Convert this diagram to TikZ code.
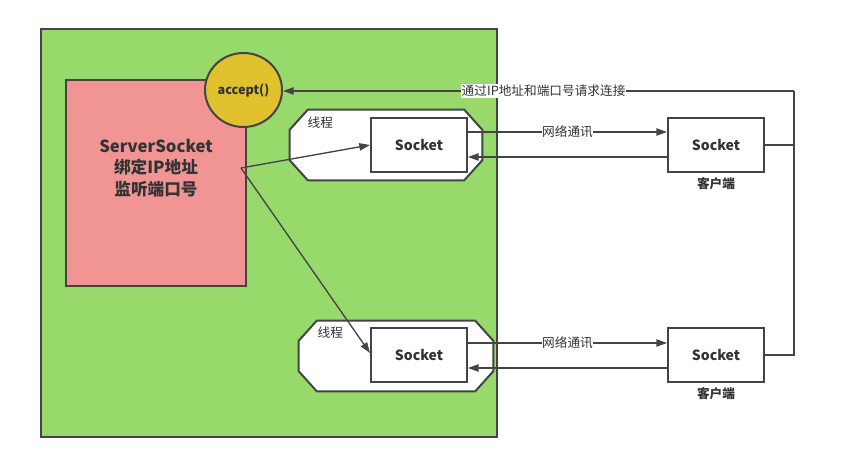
\documentclass[tikz,border=0pt]{standalone}
\usepackage{fontspec}
\setmainfont{Noto Sans CJK SC}
\usetikzlibrary{shapes.geometric,arrows.meta,calc}
\definecolor{lgreen}{RGB}{151,217,106}
\definecolor{lpink}{RGB}{241,149,148}
\definecolor{lgold}{RGB}{224,194,46}
\definecolor{ink}{RGB}{68,68,68}
\definecolor{txt}{RGB}{51,51,51}
\newcommand\myoct[1]{%
  \draw[octline] ($(#1.north west)+(18,0)$) -- ($(#1.north east)+(-18,0)$) -- ($(#1.north east)+(0,20)$) -- ($(#1.south east)+(0,-20)$) -- ($(#1.south east)+(-18,0)$) -- ($(#1.south west)+(18,0)$) -- ($(#1.south west)+(0,-20)$) -- ($(#1.north west)+(0,20)$) -- cycle;}
\begin{document}
\begin{tikzpicture}[x=0.75pt,y=-0.75pt,
  box/.style={draw=ink,line width=1.5pt,inner sep=0pt,text=txt},
  sockbox/.style={box,fill=white,minimum width=72pt,minimum height=40.5pt,font=\bfseries\fontsize{10.5}{12}\selectfont},
  thread/.style={rectangle,inner sep=0pt,minimum width=144pt,minimum height=52.5pt},
  octline/.style={draw=ink,line width=1.5pt,fill=white,line join=miter},
  lbl/.style={text=txt,font=\fontsize{9.5}{11}\selectfont,inner sep=1pt},
  conn/.style={draw=ink,line width=1pt},
  arr/.style={conn,-{Triangle[length=8pt,width=5.5pt]}}]
\useasboundingbox (0,0) rectangle (843,463);
\node[box,fill=lgreen,minimum width=342pt,minimum height=306pt] (server) at (269,233) {};
\node[box,fill=lpink,minimum width=135pt,minimum height=154.5pt] (ss) at (156,183) {};
\node[text=txt,font=\bfseries\fontsize{12.5}{16}\selectfont,align=center] (sstext) at (156,168) {ServerSocket\\绑定IP地址\\监听端口号};
\node[ellipse,box,fill=lgold,minimum width=57.75pt,minimum height=55.5pt,font=\bfseries\fontsize{9.5}{11}\selectfont] (acc) at (243.5,90) {accept()};
\node[thread] (t1) at (386,145) {};
\node[thread,minimum width=145.5pt] (t2) at (396,356) {};
\myoct{t1}
\myoct{t2}
\node[lbl,anchor=west] (t1l) at (306,123) {线程};
\node[lbl,anchor=west] (t2l) at (316,333) {线程};
\node[sockbox] (s1) at (419,145) {Socket};
\node[sockbox] (s2) at (419,355) {Socket};
\node[sockbox] (c1) at (716,145) {Socket};
\node[sockbox] (c2) at (716,355) {Socket};
\node[lbl,font=\bfseries\fontsize{9.5}{11}\selectfont] (c1l) at (716,184) {客户端};
\node[lbl,font=\bfseries\fontsize{9.5}{11}\selectfont] (c2l) at (716,394) {客户端};
\coordinate (split) at (241,168);
\coordinate (corner) at (794,91);
\draw[arr] (split) -- (s1.west);
\draw[arr] (split) -- ([yshift=1.5pt]s2.west);
\draw[arr] ([yshift=9.75pt]s1.east) -- node[lbl,fill=white,inner sep=0pt] (n1) {网络通讯} ([yshift=9.75pt]c1.west);
\draw[arr] ([yshift=-9pt]c1.west) -- ([yshift=-9pt]s1.east);
\draw[arr] ([yshift=9pt]s2.east) -- node[lbl,fill=white,inner sep=0pt] (n2) {网络通讯} ([yshift=9pt]c2.west);
\draw[arr] ([yshift=-9.75pt]c2.west) -- ([yshift=-9.75pt]s2.east);
\draw[conn] (c1.east) -- (c1.east -| corner);
\draw[conn] (c2.east) -- (c2.east -| corner) -- (corner);
\draw[arr] (corner) -- node[lbl,fill=white,inner sep=0.5pt,pos=0.49] (n3) {通过IP地址和端口号请求连接} (corner -| acc.east);
\end{tikzpicture}
\end{document}
